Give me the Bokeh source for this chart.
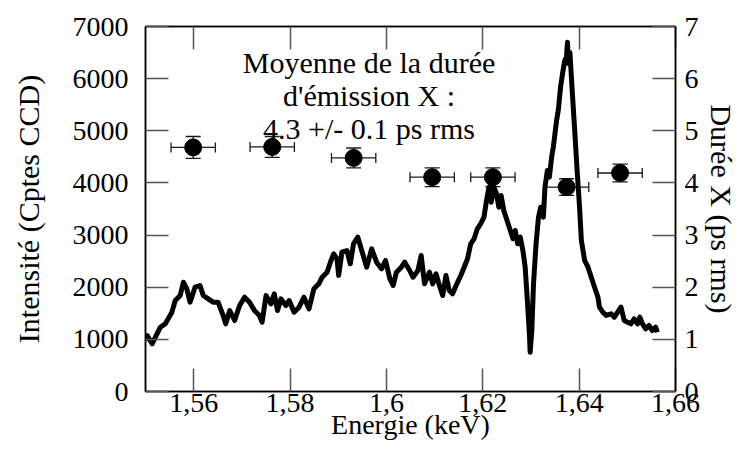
from bokeh.plotting import figure
from bokeh.models import (Range1d, LinearAxis, FixedTicker, CustomJSTickFormatter,
                          ColumnDataSource, Whisker, TeeHead, Label)
from bokeh.embed import file_html
from bokeh.resources import INLINE

# ---- spectrum (Energie keV, Intensité counts) ----
energy = [1.55000, 1.55035, 1.55138, 1.55206, 1.55308, 1.55411, 1.55549, 1.55617, 1.55720, 1.55787,
          1.55857, 1.55925, 1.56028, 1.56131, 1.56199, 1.56301, 1.56404, 1.56507, 1.56610, 1.56665,
          1.56748, 1.56850, 1.56953, 1.57056, 1.57159, 1.57261, 1.57364, 1.57420, 1.57502, 1.57605,
          1.57673, 1.57740, 1.57810, 1.57913, 1.57981, 1.58084, 1.58187, 1.58289, 1.58392, 1.58495,
          1.58598, 1.58666, 1.58768, 1.58838, 1.58906, 1.58974, 1.59009, 1.59077, 1.59180, 1.59250,
          1.59317, 1.59406, 1.59488, 1.59591, 1.59694, 1.59796, 1.59899, 1.59982, 1.60072, 1.60140,
          1.60208, 1.60310, 1.60380, 1.60483, 1.60551, 1.60654, 1.60722, 1.60791, 1.60894, 1.60962,
          1.61030, 1.61100, 1.61168, 1.61236, 1.61305, 1.61373, 1.61462, 1.61544, 1.61614, 1.61682,
          1.61750, 1.61820, 1.61887, 1.61955, 1.62025, 1.62078, 1.62128, 1.62175, 1.62230, 1.62284,
          1.62333, 1.62381, 1.62436, 1.62504, 1.62572, 1.62627, 1.62674, 1.62724, 1.62778, 1.62833,
          1.62880, 1.62930, 1.62971, 1.62983, 1.63018, 1.63053, 1.63106, 1.63156, 1.63203, 1.63258,
          1.63291, 1.63341, 1.63382, 1.63429, 1.63464, 1.63532, 1.63567, 1.63614, 1.63655, 1.63702,
          1.63737, 1.63758, 1.63778, 1.63809, 1.63861, 1.63908, 1.63958, 1.64011, 1.64046, 1.64114,
          1.64184, 1.64252, 1.64320, 1.64390, 1.64422, 1.64492, 1.64560, 1.64663, 1.64731, 1.64800,
          1.64868, 1.64936, 1.65006, 1.65074, 1.65142, 1.65212, 1.65259, 1.65315, 1.65382, 1.65450,
          1.65520, 1.65588, 1.65623]
counts = [980, 1074, 915, 1041, 1233, 1298, 1521, 1745, 1841, 2096,
          1969, 1713, 2000, 2033, 1841, 1777, 1713, 1713, 1458, 1298,
          1553, 1362, 1649, 1809, 1713, 1553, 1458, 1330, 1841, 1681,
          1873, 1553, 1777, 1649, 1745, 1521, 1617, 1809, 1585, 1969,
          2065, 2192, 2288, 2480, 2641, 2545, 2225, 2672, 2704, 2449,
          2833, 2960, 2704, 2384, 2736, 2480, 2353, 2513, 2161, 2033,
          2288, 2384, 2480, 2321, 2192, 2321, 2609, 2065, 2288, 2065,
          2257, 2033, 1841, 2225, 1937, 1873, 2065, 2225, 2384, 2540,
          2833, 2929, 3120, 3216, 3343, 3663, 3918, 3631, 3918, 3792,
          3535, 3759, 3471, 3280, 3088, 2929, 3088, 2833, 2960, 2704,
          2384, 1681, 1041, 754, 1170, 2065, 2833, 3343, 3535, 3343,
          3918, 4239, 4110, 4494, 4686, 5198, 5390, 5836, 6093, 6348,
          6412, 6700, 6290, 6500, 5700, 5006, 4239, 3500, 2900, 2513,
          2384, 2192, 2000, 1809, 1617, 1521, 1458, 1490, 1425, 1521,
          1617, 1362, 1330, 1298, 1394, 1298, 1425, 1298, 1202, 1266,
          1170, 1233, 1137]

# ---- X-ray duration points (right axis, ps rms) ----
pt_energy = [1.5599, 1.5763, 1.5932, 1.6095, 1.6221, 1.6374, 1.6485]
pt_duration = [4.68, 4.69, 4.48, 4.11, 4.11, 3.92, 4.19]
pt_energy_err = [0.0046, 0.0046, 0.0046, 0.0046, 0.0046, 0.0046, 0.0046]
pt_duration_err = [0.21, 0.20, 0.19, 0.18, 0.18, 0.16, 0.17]

x_ticks = [1.56, 1.58, 1.60, 1.62, 1.64, 1.66]
y_ticks = [0, 1000, 2000, 3000, 4000, 5000, 6000, 7000]
y2_ticks = [0, 1, 2, 3, 4, 5, 6, 7]

annotation_lines = ["Moyenne de la durée", "d'émission X :", "4.3 +/- 0.1 ps rms"]
annotation_y = [6310, 5677, 5044]
annotation_x = 1.5964
x_title = "Energie (keV)"

FONT = "Liberation Serif"

p = figure(width=740, height=448, x_range=Range1d(1.55, 1.66), y_range=Range1d(0, 7000),
           x_axis_type=None, y_axis_type=None, output_backend="svg", toolbar_location=None,
           min_border_left=145, min_border_right=60, min_border_top=26, min_border_bottom=57)
p.extra_y_ranges = {"dur": Range1d(0, 7)}
p.outline_line_color = "black"
p.outline_line_width = 1.5
p.background_fill_color = "white"
p.border_fill_color = "white"

fmt = CustomJSTickFormatter(code="""
let s = tick.toFixed(2);
if (s.endsWith('0')) { s = s.slice(0, -1); }
return s.replace('.', ',');
""")
blank_fmt = CustomJSTickFormatter(code="return '';")


def style_axis(ax):
    ax.axis_line_color = "black"
    ax.axis_line_width = 1.5
    ax.major_tick_in = 23
    ax.major_tick_out = 0
    ax.major_tick_line_color = "#555555"
    ax.major_tick_line_width = 1.5
    ax.minor_tick_line_color = None
    ax.major_label_text_font = FONT
    ax.major_label_text_font_size = "28px"
    ax.major_label_text_color = "black"
    ax.axis_label_text_font = FONT
    ax.axis_label_text_font_size = "30px"
    ax.axis_label_text_font_style = "normal"
    ax.axis_label_text_color = "black"


bottom = LinearAxis(ticker=FixedTicker(ticks=x_ticks), formatter=fmt, axis_label=x_title)
style_axis(bottom)
bottom.axis_label_text_font_size = "28px"
bottom.major_label_standoff = 2
bottom.axis_label_standoff = -6
p.add_layout(bottom, "below")

top = LinearAxis(ticker=FixedTicker(ticks=x_ticks), formatter=blank_fmt)
style_axis(top)
top.major_label_text_font_size = "1px"
top.major_label_standoff = 0
p.add_layout(top, "above")

left = LinearAxis(ticker=FixedTicker(ticks=y_ticks), axis_label="Intensité (Cptes CCD)")
style_axis(left)
left.major_label_standoff = 17
left.axis_label_standoff = 25
p.add_layout(left, "left")

right = LinearAxis(ticker=FixedTicker(ticks=y2_ticks), y_range_name="dur",
                   axis_label="Durée X (ps rms)")
style_axis(right)
right.major_label_standoff = 9
right.axis_label_standoff = 3
p.add_layout(right, "right")

# spectrum
p.line(energy, counts, line_width=5, line_color="black", line_join="round")

# duration points with error bars
src = ColumnDataSource(dict(
    x=pt_energy, y=pt_duration,
    xl=[e - d for e, d in zip(pt_energy, pt_energy_err)],
    xu=[e + d for e, d in zip(pt_energy, pt_energy_err)],
    yl=[v - d for v, d in zip(pt_duration, pt_duration_err)],
    yu=[v + d for v, d in zip(pt_duration, pt_duration_err)],
))
EB = "#1a1a1a"
wx = Whisker(base="y", lower="xl", upper="xu", source=src, dimension="width", y_range_name="dur",
             line_color=EB, line_width=1.3,
             lower_head=TeeHead(size=10, line_color=EB, line_width=1.3),
             upper_head=TeeHead(size=10, line_color=EB, line_width=1.3))
wy = Whisker(base="x", lower="yl", upper="yu", source=src, dimension="height", y_range_name="dur",
             line_color=EB, line_width=1.3,
             lower_head=TeeHead(size=15, line_color=EB, line_width=1.3),
             upper_head=TeeHead(size=15, line_color=EB, line_width=1.3))
p.add_layout(wx)
p.add_layout(wy)
p.scatter("x", "y", source=src, size=17, marker="circle", fill_color="black",
          line_color="black", y_range_name="dur")

# annotation text
for txt, yy in zip(annotation_lines, annotation_y):
    p.add_layout(Label(x=annotation_x, y=yy, text=txt, text_align="center",
                       text_baseline="alphabetic", text_font=FONT, text_font_size="30px",
                       text_color="black"))

open("out.html", "w").write(file_html(p, INLINE))
